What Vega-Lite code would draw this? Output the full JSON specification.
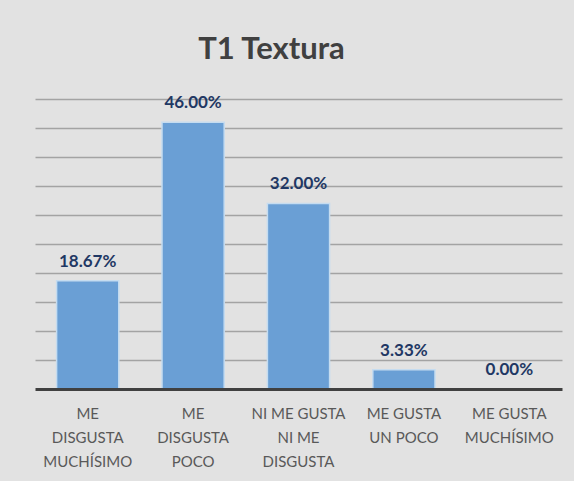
{
  "$schema": "https://vega.github.io/schema/vega-lite/v6.json",
  "width": 527,
  "height": 290,
  "autosize": "none",
  "padding": {"left": 35, "top": 99, "right": 12, "bottom": 92},
  "background": "#e2e2e2",
  "title": {"text": "T1 Textura", "font": "Lato", "fontSize": 31, "fontWeight": "bold", "color": "#404040", "anchor": "middle", "dx": -27, "offset": 28},
  "data": {"values": [
    {"categoria": "ME|DISGUSTA|MUCHÍSIMO", "porcentaje": 0.1867},
    {"categoria": "ME|DISGUSTA|POCO", "porcentaje": 0.46},
    {"categoria": "NI ME GUSTA|NI ME|DISGUSTA", "porcentaje": 0.32},
    {"categoria": "ME GUSTA|UN POCO", "porcentaje": 0.0333},
    {"categoria": "ME GUSTA|MUCHÍSIMO", "porcentaje": 0}
  ]},
  "encoding": {
    "x": {
      "field": "categoria", "type": "nominal", "sort": null,
      "scale": {"paddingInner": 0.41, "paddingOuter": 0.205},
      "axis": {"title": null, "labelAngle": 0, "labelExpr": "split(datum.label, '|')", "labelFont": "Lato", "labelFontSize": 15, "labelColor": "#595959", "labelLineHeight": 24, "labelPadding": 17, "labelBaseline": "top", "ticks": false, "domainColor": "#404040", "domainWidth": 3, "zindex": 1}
    },
    "y": {
      "field": "porcentaje", "type": "quantitative",
      "scale": {"domain": [0, 0.5]},
      "axis": {"title": null, "labels": false, "ticks": false, "domain": false, "grid": true, "gridColor": "#a3a3a3", "gridWidth": 1.5, "values": [0.05, 0.1, 0.15, 0.2, 0.25, 0.3, 0.35, 0.4, 0.45, 0.5]}
    }
  },
  "layer": [
    {"mark": {"type": "bar", "color": "#6a9fd5", "stroke": "#c5dcf0", "strokeWidth": 1.5}},
    {"mark": {"type": "text", "baseline": "alphabetic", "dy": -14, "font": "Lato", "fontWeight": "bold", "fontSize": 17, "color": "#1f3864"},
     "encoding": {"text": {"field": "porcentaje", "type": "quantitative", "format": ".2%"}}}
  ],
  "config": {"view": {"stroke": null}}
}
